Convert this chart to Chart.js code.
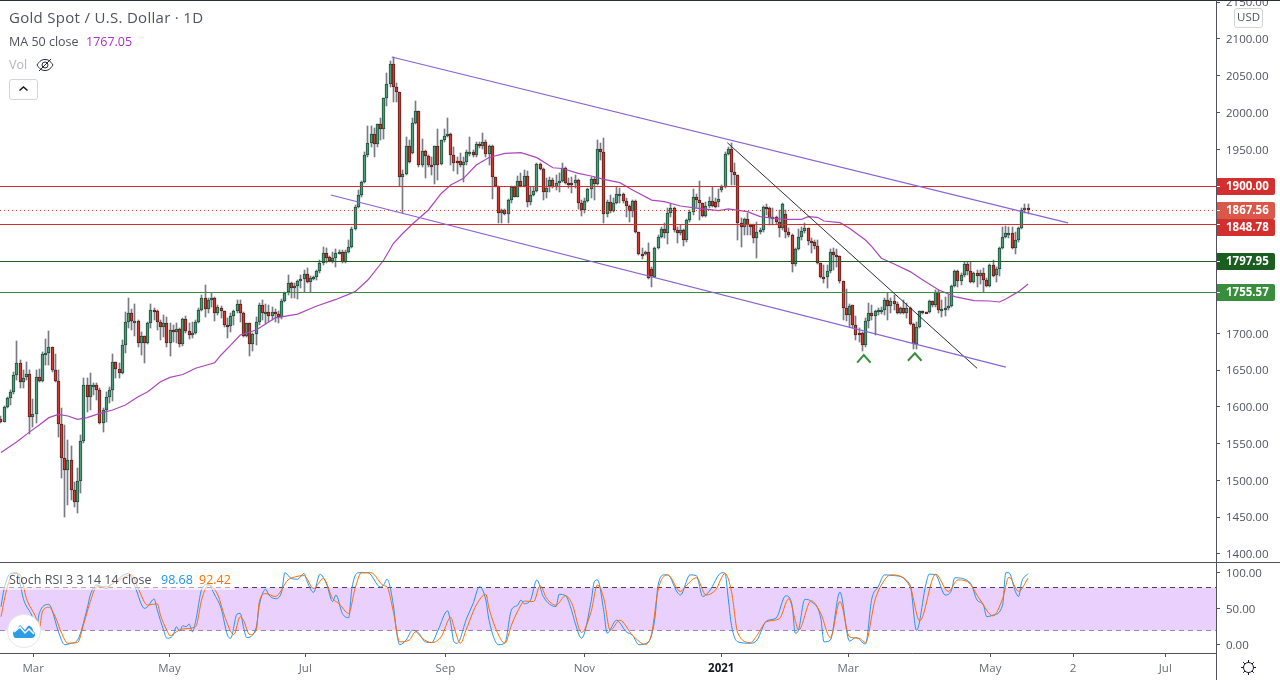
<!DOCTYPE html>
<html>
<head>
<meta charset="utf-8">
<title>Gold Spot / U.S. Dollar</title>
<script src="https://cdn.jsdelivr.net/npm/chart.js@4"></script>
<style>
html, body { margin: 0; padding: 0; background: #fff; }
body { width: 1280px; height: 680px; position: relative; overflow: hidden; font-family: "Open Sans", sans-serif; color: #50535e; }
canvas { position: absolute; left: 0; }
#priceChart { top: 1px; }
#stochChart { top: 563px; }
.rule { position: absolute; background: #50535e; }
.txt { position: absolute; white-space: nowrap; line-height: 16px; }
</style>
</head>
<body>
<canvas id="priceChart" width="1280" height="561"></canvas>
<canvas id="stochChart" width="1280" height="117"></canvas>

<div class="rule" style="left:0;top:0;width:1280px;height:1px;background:#2a2e39"></div>
<div class="rule" style="left:0;top:562px;width:1280px;height:1px"></div>
<div class="rule" style="left:1216px;top:0;width:1px;height:680px"></div>

<span class="txt" style="left:9px;top:9px;font-size:15px;letter-spacing:.3px">Gold Spot / U.S. Dollar · 1D</span>
<span class="txt" style="left:9px;top:34px;font-size:12.5px">MA 50 close</span>
<span class="txt" style="left:86px;top:34px;font-size:12.500px;color:#ab2fc4">1767.05</span>
<span class="txt" style="left:9px;top:57px;font-size:12.5px;color:#b2b5be">Vol</span>
<svg style="position:absolute;left:36px;top:57px" width="18" height="16" viewBox="0 0 18 16" fill="none" stroke="#2a2e39" stroke-width="1">
  <path d="M1 8c3-4.5 5-5.500 8-5.500s5 1 8 5.500c-3 4.500-5 5.500-8 5.500s-5-1-8-5.500z"/>
  <circle cx="9" cy="8" r="3"/><path d="M3 14L15 2"/>
</svg>
<div style="position:absolute;left:9px;top:79px;width:27px;height:19px;border:1px solid #d1d4dc;border-radius:3px"></div>
<svg style="position:absolute;left:18px;top:85px" width="11" height="7" fill="none" stroke="#131722" stroke-width="1.500"><path d="M1.500 5.500L5.500 2l4 3.500"/></svg>

<div style="position:absolute;left:1234px;top:8px;width:27px;height:18px;border:1px solid #d1d4dc;border-radius:3px;background:#fff"></div>
<span class="txt" style="left:1237px;top:9px;font-size:11.5px">USD</span>

<div style="position:absolute;left:0;top:570px;width:235px;height:20px;background:rgba(255,255,255,.55)"></div>
<span class="txt" style="left:9px;top:572px;font-size:12.5px">Stoch RSI 3 3 14 14 close</span>
<span class="txt" style="left:161px;top:572px;font-size:12.5px;color:#2196f3">98.68</span>
<span class="txt" style="left:199px;top:572px;font-size:12.5px;color:#ff6d00">92.42</span>

<div style="position:absolute;left:7px;top:614px;width:32px;height:32px;border-radius:50%;background:#fff;border:1px solid #e6e6ea"></div>
<svg style="position:absolute;left:13px;top:622px" width="22" height="16" viewBox="0 0 22 16">
  <path fill="#2e9be6" d="M0 11c0-2 2-3 3-3l4-5 5 5 3-4c2-1 5 2 5 5 2 1 2 3 2 4 0 2-2 3-3 3H3c-2 0-3-2-3-5z"/>
  <path fill="none" stroke="#fff" stroke-width="1.500" d="M1 10l6-5 5 6 4-4 5 5"/>
</svg>

<svg style="position:absolute;left:1240px;top:659px" width="17" height="17" viewBox="0 0 17 17" fill="none" stroke="#131722" stroke-width="1">
  <circle cx="8.500" cy="8.500" r="5"/>
  <path d="M8.500 1v2.500M8.500 13.500V16M1 8.500h2.500M13.500 8.500H16M3.200 3.200L5 5M12 12l1.800 1.800M3.200 13.800L5 12M12 5l1.800-1.800"/>
</svg>

<script>
// daily candles, oldest first
const opens = [
  1583,1580,1600,1611.6,1619.7,1642.8,1659,1634,1640,1644,
  1586,1590,1641,1635.6,1671.4,1672.7,1680.9,1649.6,1634.7,1576.2,
  1530,1513.7,1527.3,1486.6,1470.3,1498.8,1553,1629.2,1612.9,1629.2,
  1630,1622.5,1577.6,1595.3,1613,1622.5,1660.5,1651,1645.6,1683.6,
  1715,1727,1716.2,1717,1686.3,1695.8,1686.3,1713.5,1731.2,1729.8,
  1715,1708,1713.5,1686.3,1704,1701.3,1705.4,1685,1718.9,1702.6,
  1697.2,1699.9,1715,1731.2,1747.5,1732.5,1744.8,1747.5,1727,1735,
  1729.8,1710.8,1709.4,1723,1729.8,1739.3,1727,1695.8,1713.5,1685,
  1698.6,1715,1738.4,1727,1729.4,1724,1729.4,1726.2,1722.6,1744.3,
  1755.7,1767.9,1761.1,1763.8,1770.6,1773.3,1780.1,1769.3,1774.7,1776,
  1784.2,1795.1,1808.7,1803.2,1798.3,1802.8,1808.7,1810,1796.4,1810,
  1816.8,1841.3,1871.2,1887.5,1905.2,1941.9,1958.2,1970.4,1956.8,1984,
  1977.2,2019.3,2038.3,2065.5,2034.3,2027.5,1912,1916,1954.1,1944.6,
  1985.3,2001.6,1928.3,1947.3,1940.5,1928.3,1928.3,1954.1,1929.6,1962.2,
  1967.7,1970.4,1941.9,1933.7,1933.7,1928.3,1932.3,1945.5,1945.9,1941.9,
  1956.8,1954.1,1959.5,1943.2,1954.1,1912,1899.7,1863,1867.1,1861.7,
  1880.7,1898.4,1885.7,1906.5,1900.2,1913.3,1878,1888,1893.4,1930.1,
  1922.9,1891.6,1900,1907.9,1898.4,1903.8,1906.6,1924.2,1903.8,1903.8,
  1903.8,1907.9,1876.7,1867.1,1879.4,1895.7,1909.3,1902.5,1950,1946,
  1861.7,1878,1865.8,1876.7,1888.9,1888.9,1879.4,1872.6,1865.8,1879.4,
  1837.2,1807.3,1807.3,1810,1786.9,1777,1815.5,1830.4,1841.3,1835.9,
  1863,1869.9,1840,1835.9,1840,1826.4,1853.5,1864.4,1884.8,1880.7,
  1876.6,1859.9,1872.6,1879.4,1878,1878,1894.3,1898.4,1943.2,1950,
  1918.8,1914.7,1849.5,1844,1854.9,1846.8,1846.8,1829.1,1837.2,1840,
  1871.2,1869.9,1856.3,1857.6,1850.8,1842.7,1861.7,1838.1,1833.6,1793.7,
  1814.1,1830.4,1838.6,1842.7,1825,1823.6,1818.2,1795.1,1776,1776,
  1784.2,1810,1806,1804.6,1770.6,1733.9,1724.4,1738,1710.8,1700,
  1700,1683.7,1716.3,1727.1,1723,1729.8,1731.2,1731.2,1744.8,1736.6,
  1743.5,1739.4,1727.1,1733.9,1727.1,1733.9,1712.2,1685,1708.1,1729.8,
  1728.5,1728.5,1743.5,1738,1755.7,1731.2,1732.6,1733.9,1736.6,1763.8,
  1784.2,1770.6,1778.8,1793.7,1784.2,1769.3,1781.5,1777.4,1781.5,1772,
  1763.8,1792.4,1778.8,1786.9,1815.5,1830.4,1835.9,1836.8,1815.5,1826.4,
  1842.7,1867.1,1869.8
];
const highs = [
  1587,1601,1614,1623,1648,1689.5,1663.7,1650,1660.5,1650,
  1610,1650,1652,1675,1691.8,1703,1681.8,1671.8,1650,1598,
  1575,1555,1546.8,1498.4,1516.4,1561.7,1638.8,1638.8,1645.6,1632.9,
  1632,1625,1598,1620.6,1627.4,1671.8,1661.4,1659,1690.9,1729.4,
  1747.5,1732.5,1739.8,1718,1702,1696.7,1715.8,1739.8,1733.9,1731.6,
  1718,1724.8,1722.6,1713.5,1711.2,1713.5,1706.7,1721.2,1723.5,1713.5,
  1715.8,1718,1733.9,1752,1765.6,1747.5,1755,1749,1738.4,1737,
  1730.7,1720.3,1727,1731.6,1745,1745,1729.4,1714.4,1714.4,1700,
  1722.6,1741.6,1745,1740,1738.4,1736,1733,1730,1746,1756,
  1779,1770.2,1767.9,1772.4,1779.2,1786,1788.3,1777.9,1777.9,1786,
  1799.6,1817.7,1815.5,1805,1811,1814.1,1813.2,1813.2,1813.2,1826.8,
  1844.9,1874.4,1894.7,1907.4,1946.8,1981.7,1981.7,1978.5,1984.4,1992.1,
  2020.2,2053.3,2070.5,2075.9,2039.7,2028.4,1921.9,1966.3,1962.7,1992.1,
  2015.7,2002.6,1963.6,1949.1,1941.9,1939.1,1954.5,1977.2,1962.7,1977.2,
  1992.1,1971.8,1953.6,1940,1944.6,1940,1949.1,1966.3,1949.1,1960.4,
  1960.4,1971.8,1962.7,1955.9,1955.9,1912.9,1900.2,1868.5,1868.5,1882,
  1900.2,1900.2,1913.8,1917.4,1921.9,1921,1899.3,1899.3,1931,1931.9,
  1924.2,1910.6,1912.9,1910.6,1915.2,1917.4,1931.9,1926.5,1910.6,1912.9,
  1915.2,1909.3,1881.2,1883.4,1897,1912.9,1912.9,1962.7,1958.2,1965,
  1881.2,1888,1883.4,1899.3,1897,1890.2,1883.4,1874.4,1881.2,1881.2,
  1838.1,1815.5,1812.3,1823.2,1790.6,1817.8,1833.6,1844,1849.5,1869.9,
  1875.8,1871.2,1845,1847.2,1841.3,1854.9,1867.6,1895.7,1889.3,1907,
  1877.6,1878.9,1885.7,1899.3,1883.4,1895.7,1901.6,1946.9,1952.8,1959.1,
  1931,1915.6,1856.3,1856.3,1863,1848.6,1848.6,1851.7,1842.7,1873,
  1875.8,1872.1,1869.9,1859.4,1867.6,1877.5,1867.6,1842.7,1834.5,1815.5,
  1841.3,1844.9,1849.5,1843.6,1829,1826.8,1826.8,1796,1792.8,1792.8,
  1814.1,1815.5,1814.1,1805.5,1771.5,1759.8,1739.8,1738.9,1723.5,1706.8,
  1702.2,1720.4,1740.7,1738.5,1731.7,1733.9,1736.2,1747.5,1754.3,1747.5,
  1752,1743,1736.2,1745.3,1740.7,1735.3,1713.5,1715.8,1730.7,1730.7,
  1729.4,1745.3,1744.4,1758.8,1758.8,1745.3,1749.8,1752,1765.6,1786,
  1786,1782.4,1797.3,1797.3,1797.3,1783.8,1786,1786,1788.3,1774.7,
  1794.2,1799.6,1789.7,1816.8,1844,1845.8,1844,1844.9,1838.1,1844,
  1869.8,1875.7,1875.7
];
const lows = [
  1578,1579,1598,1602,1618,1636.5,1625,1625,1636.5,1562.7,
  1573,1577.6,1634,1634,1657,1657,1648,1633.8,1559.5,1503.8,
  1450.8,1466.6,1473.4,1464.4,1455.3,1482.5,1550.4,1593.5,1595.7,1616,
  1609.3,1576.7,1566.3,1579.9,1604.8,1608.4,1638.8,1638.8,1644.2,1673.6,
  1706.7,1704.4,1696.3,1680.9,1670.5,1660,1685,1706.7,1718,1704.4,
  1690.9,1695.4,1681.8,1669,1688.6,1686.3,1681.8,1682.7,1700,1691.8,
  1693,1699,1713.5,1730.7,1722.6,1727,1736.2,1717,1724.8,1720.3,
  1709,1693,1702,1711,1728,1715.8,1695.4,1695.4,1669,1676.4,
  1684,1711,1718,1713,1715.8,1718,1715,1714,1720,1743,
  1752,1747.5,1747.5,1746.6,1761,1756.6,1767.9,1756.6,1772.4,1772.4,
  1782.4,1792.8,1795.1,1796.9,1795.1,1790.5,1807.8,1795.1,1795.1,1808.7,
  1815.5,1840.4,1869.8,1885.7,1903.8,1939.1,1953.6,1939.1,1953.6,1962.7,
  1963.6,2008.9,2035.2,2014.8,2014.8,1900.2,1863,1915.1,1931,1943.7,
  1984.4,1926.4,1925.5,1911.5,1926.4,1915.1,1902.4,1908.3,1928.7,1960.4,
  1966.3,1928.7,1921,1916.5,1926.4,1906,1928.7,1941,1940,1939.1,
  1951.4,1950,1940,1928.7,1882,1898.4,1849.4,1849.4,1860.8,1849.4,
  1876.6,1884.8,1884.8,1898.4,1899.3,1871.2,1874.4,1886.6,1892.5,1922,
  1881.2,1883.4,1892.5,1897,1894.8,1892.5,1905.2,1902.9,1897,1891.2,
  1897,1868.5,1859.4,1863,1878.5,1883.4,1881.2,1901.6,1935.5,1849.5,
  1858.5,1864,1864.9,1875.8,1876.7,1876.7,1858.5,1851.7,1858.5,1835.9,
  1806.4,1800.5,1806.4,1773.4,1763.4,1776,1814.1,1829.1,1829.1,1821.4,
  1858.5,1838.1,1823.2,1833.6,1818.7,1824.6,1851.7,1860.8,1869.9,1854,
  1858.5,1858.5,1869.9,1871.2,1869.9,1871.2,1892.5,1897,1942.3,1901.6,
  1901.6,1826.8,1817.8,1833.6,1833.6,1833.6,1822.3,1801.9,1835,1838.1,
  1860.8,1847.2,1847.2,1848.6,1831.3,1840.4,1829,1831.3,1783.8,1791.5,
  1813.2,1826.8,1835.9,1820,1809.6,1814.1,1794.2,1774.7,1767.9,1761.1,
  1781.5,1786,1790.5,1767.9,1718.1,1717.2,1709,1706.8,1690.9,1688.6,
  1676.4,1681.8,1706.8,1718.1,1697.7,1724.9,1726.2,1724.9,1718.1,1727.1,
  1731.7,1726.2,1726.2,1726.2,1720.4,1711.3,1678.2,1678.2,1706.8,1726.2,
  1727.1,1727.1,1736.2,1736.2,1727.1,1722.6,1723.5,1731.7,1735.3,1762.5,
  1763.4,1765.6,1777,1779.2,1767.9,1767.9,1763.4,1767,1756.6,1762.5,
  1762.5,1776,1770.2,1777.9,1814.1,1829,1829,1814.1,1807.8,1824.5,
  1841.3,1863,1862.1
];
const closes = [
  1579.9,1600.3,1611.6,1619.7,1642.8,1659.1,1634.2,1639.7,1644.2,1585.8,
  1589.8,1641,1635.6,1671.4,1672.7,1680.9,1649.6,1634.7,1576.2,1530,
  1513.7,1527.3,1486.6,1470.3,1498.8,1553.1,1629.2,1612.9,1629.2,1630.2,
  1622.5,1577.6,1595.3,1613,1622.5,1660.5,1651,1645.6,1683.6,1714.9,
  1727,1716.2,1717,1686.3,1695.8,1686.3,1713.5,1731.2,1729.8,1714.9,
  1708,1713.5,1686.3,1704,1701.3,1705.4,1685,1718.9,1702.6,1697.2,
  1699.9,1714.9,1731.2,1747.5,1732.5,1744.8,1747.5,1727,1735.3,1729.8,
  1710.8,1709.4,1723,1729.8,1739.3,1727,1695.8,1713.5,1685,1698.6,
  1714.9,1738,1727,1728.5,1724,1729.4,1726.2,1722.6,1744.3,1755.2,
  1768,1761.1,1763.8,1770.6,1773.3,1780.1,1769.3,1774.7,1776,1784.2,
  1795.1,1808.7,1802.8,1798.3,1802.8,1808.7,1810,1796.4,1810,1816.8,
  1841.3,1871.2,1887.5,1905.2,1941.9,1958.2,1970.4,1956.8,1984,1977.2,
  2019.3,2038.3,2065.5,2034.3,2027.5,1912,1916,1954.1,1932.3,1985.3,
  2001.6,1928.3,1947.3,1940.5,1928.3,1927.8,1954.1,1928.3,1962.2,1967.7,
  1970.4,1941.9,1931,1931,1928.3,1932.3,1945.9,1945.9,1941.9,1956.8,
  1954.1,1959.5,1943.2,1954.1,1912,1899.7,1863,1867.1,1861.7,1880.7,
  1898.4,1885.7,1906.5,1899.7,1913.3,1878,1888,1893.4,1930.1,1922.9,
  1891.6,1897.5,1907.9,1898.4,1903.8,1906.6,1924.2,1903.8,1903.4,1902.5,
  1907.9,1876.7,1867.1,1879.4,1895.7,1909.3,1902.5,1950,1946,1861.7,
  1878,1865.8,1876.7,1888.9,1889.3,1879.4,1872.6,1865.8,1879.4,1837.2,
  1807.3,1806.9,1810,1774.7,1777.9,1815.5,1830.4,1841.3,1835.9,1863,
  1869.9,1840,1835.9,1840,1826.4,1853.5,1864.4,1884.8,1880.7,1876.6,
  1859.9,1872.6,1879.4,1872.6,1871.2,1882.1,1898.4,1943.2,1950,1918.8,
  1914.7,1849.5,1844,1854.9,1846.8,1846.3,1829.1,1837.2,1840,1871.2,
  1869.9,1856.3,1857.6,1850.8,1842.7,1875.3,1838.1,1833.6,1793.7,1814.1,
  1830.4,1838.6,1842.7,1825,1823.6,1818.2,1795.1,1776,1775.6,1784.2,
  1810,1806,1804.6,1770.6,1733.9,1724.4,1736.6,1710.8,1697.2,1697.2,
  1683.7,1716.3,1727.1,1723,1729.8,1731.2,1731.5,1744.8,1736.6,1743.5,
  1739.4,1727.1,1733.9,1727.1,1733.9,1712.2,1685,1708.1,1729.8,1728.5,
  1728,1743.5,1738,1755.7,1731.2,1732.6,1733.9,1736.6,1763.8,1784.2,
  1770.6,1778.8,1793.7,1784.2,1769.3,1781.5,1777.4,1781.5,1772,1763.8,
  1792.4,1777.4,1786.9,1815.5,1830.4,1835.9,1836.8,1815.5,1826.4,1842.7,
  1867.1,1869.8,1867.56
];

// MA 50, read at the bars listed in maBars
const maBars = [0,5,9,12,15,18,21,24,27,31,35,39,43,46,50,53,57,61,67,69,72,75,80,86,93,99,105,111,115,120,123,126,129,134,138,141,145,149,153,158,163,168,173,176,181,185,189,194,198,204,208,213,218,225,228,234,238,244,246,251,253,256,258,263,266,271,273,276,280,285,289,294,299,305,310,313,315,319,322];
const maValues = [1538,1552.7,1566,1575.4,1585.3,1589.8,1587.6,1583,1585.3,1591.2,1595.7,1602.5,1613.8,1620.6,1634,1640,1644,1652.4,1660,1670.5,1684,1697.6,1704.5,1721,1726,1737,1746,1756.6,1772.4,1799.6,1822,1836,1848.5,1867.6,1890,1901.5,1910.6,1928.7,1939,1944.6,1945.5,1938.7,1925,1924,1917.4,1913.8,1909.3,1904.7,1894.8,1881,1879,1873,1870,1866.7,1869,1865.3,1858.5,1855.4,1854.9,1854.9,1858.5,1857.6,1852.6,1850.4,1842.7,1826.8,1817.7,1802,1794.2,1783.8,1772.4,1758.8,1749.8,1744.4,1743.9,1742.5,1746.5,1756.6,1767.05];

// Stoch RSI, read at the turning points of each line
const kBars = [0,1,3,5,6,7,10,11,12,15,16,18,20,22,24,27,28,30,31,33,35,40,42,45,46,48,49,51,52,54,55,56,57,58,59,60,61,63,65,67,69,71,72,74,75,76,77,80,81,83,84,86,88,89,91,93,95,96,98,100,102,104,105,107,109,110,112,115,119,120,121,123,124,125,127,129,131,133,135,137,140,141,142,143,146,148,150,152,153,156,158,160,162,163,164,166,168,170,174,175,177,179,180,182,185,186,187,189,190,193,196,198,200,203,205,206,208,209,212,213,216,218,220,222,226,227,228,229,231,235,237,240,243,246,248,249,250,252,254,257,258,260,263,266,268,271,273,275,277,280,285,287,290,291,293,296,298,299,304,306,308,309,311,314,315,316,318,319,320,322];
const kValues = [52.8,78.2,99,100,85,64,37,20,43.5,56,48,18,0,2,6.5,50,69,83,81.5,78,85,99,80.5,50.5,53,63.4,48,20,9,13.4,25,19,26.4,25,28.7,18,32,78,84,69,50.5,13.4,9,42.6,43.5,25,10,23.6,55,77,69,64,73.6,100,92,91,99,87.5,72.7,98,85,60,69,43.5,37.5,78,100,100,80,83,91,55,18,0,6.5,20,16,4,3,20,47,30,4,2,37,57,80.5,62,34,0,3,48,55,62,57,62,90,67,53,70,68,46,30,9,60,87.5,90,46,16,34,18,13,0,4,37,83,97,97,73,69,97,96,67,74,100,99,64,27,4,2,6.5,33,37,68,55,16,20,63,60,37,4,6.5,73,5,10,1,64,80.5,97,96,83,20,85,98,97,69,76,93,85,62,55,39,41,55,100,100,74,67,87.5,98.68];
const dBars = [0,2,4,6,8,11,12,13,15,17,19,21,24,26,28,30,33,36,41,43,46,49,50,52,53,55,57,61,63,65,68,70,73,75,76,78,80,81,83,86,90,92,95,98,101,104,106,109,111,113,116,120,121,123,125,128,130,132,135,138,141,142,144,146,149,152,153,156,158,160,163,164,167,169,171,174,177,179,182,185,187,189,191,194,198,202,204,206,209,213,215,218,221,224,227,229,231,235,237,240,244,247,249,250,254,257,260,263,266,269,271,274,276,279,285,288,293,297,300,303,307,311,314,316,319,322];
const dValues = [39,80.5,99,97,64,37,23,46,52,39,16,2,3,30,60,80.5,80.5,87.5,97,78,55,57,41,20,12.5,18,22,25,64,83,69,41,14,39,34,14,20,60,71,67,90,94,96,78,92,64,57,43.5,78,100,100,82,80.5,46,4,6.5,18,9,3,11,38,25,2,23,55,70,50.5,13.4,2,27,55,60.6,60,82,65,55,68,57,17,46,83,64,20,34,13,0.5,16,76,97,74,83,93,69,76,99,74,16,3,13,32,36,64,34,20,61,43.5,10,60,11,9,3,62,83,97,80.5,33,98,74,90,87.5,62,40,64,94,74,92.42];

// drawn levels and trend lines
const levelPrices = [1900, 1867.56, 1848.78, 1797.95, 1755.57];
const levelLabels = ['1900.00', '1867.56', '1848.78', '1797.95', '1755.57'];
const levelColors = ['#d32f2f', '#e53935', '#d32f2f', '#1b5e20', '#388e3c'];
const levelBoxColors = ['#d32f2f', '#d9584a', '#d32f2f', '#1b5e20', '#388e3c'];
const upperChannelBars = [122.5, 334.5];
const upperChannelPrices = [2075.5, 1850];
const lowerChannelBars = [103.4, 315];
const lowerChannelPrices = [1888, 1654];
const breakLineBars = [227.7, 306];
const breakLinePrices = [1959, 1652.4];
const firstLowBars = [268.4, 270.5, 272.6];
const firstLowPrices = [1660, 1670.5, 1660];
const secondLowBars = [284.3, 286.5, 288.6];
const secondLowPrices = [1662.7, 1672.8, 1662.7];

// axes
const priceTicks = [1400,1450,1500,1550,1600,1650,1700,1750,1800,1850,1900,1950,2000,2050,2100,2150];
const stochTicks = [0, 50, 100];
const bandEdges = [80, 20];
const timeTickBars = [10.1, 52.8, 95.4, 139.3, 182.9, 225.8, 265.6, 310.1, 336.1, 365];
const timeTickLabels = ['Mar', 'May', 'Jul', 'Sep', 'Nov', '2021', 'Mar', 'May', '2', 'Jul'];

const BAR_MIN = -0.31;
const BAR_MAX = 380.9;
const FONT = '"Open Sans", sans-serif';
const AXIS_COLOR = '#50535e';

const upFill = '#4a9d78', upEdge = '#1f4f3a';
const downFill = '#d9362b', downEdge = '#57201c';

function points(xs, ys) {
    return xs.map((x, i) => ({ x: x, y: ys[i] }));
}

function lineSet(xs, ys, color, extra) {
    return Object.assign({
        type: 'line',
        data: points(xs, ys),
        borderColor: color,
        borderWidth: 1,
        pointRadius: 0,
        fill: false,
        order: 5
    }, extra || {});
}

// keep candles and flat rules on whole pixels like the original
const snapMarks = {
    id: 'snapMarks',
    beforeDatasetsDraw(chart) {
        chart.getSortedVisibleDatasetMetas().forEach(meta => {
            if (meta.type === 'bar') {
                meta.data.forEach(el => {
                    el.x = Math.floor(el.x) + 0.5;
                    el.y = Math.round(el.y);
                    el.base = Math.round(el.base);
                    if (el.base - el.y < 2 && meta.index === 0) el.base = el.y + 2;
                });
            } else if (chart.data.datasets[meta.index].flatRule) {
                meta.data.forEach(el => { el.y = Math.round(el.y) + 0.5; });
            }
        });
    }
};

// coloured price boxes on the axis
const levelBoxes = {
    id: 'levelBoxes',
    afterDraw(chart) {
        const ctx = chart.ctx;
        const yScale = chart.scales.y;
        const left = chart.chartArea.right;
        let lastBottom = -100;
        levelPrices.forEach((price, i) => {
            const lineY = Math.round(yScale.getPixelForValue(price));
            const top = Math.max(lineY - 8, lastBottom);
            lastBottom = top + 17;
            ctx.save();
            ctx.fillStyle = levelBoxColors[i];
            ctx.beginPath();
            ctx.roundRect(left, top, 59, 17, [0, 2, 2, 0]);
            ctx.fill();
            ctx.fillStyle = '#fff';
            ctx.fillRect(left, lineY, 4, 1);
            ctx.font = 'bold 11.5px ' + FONT;
            ctx.textAlign = 'left';
            ctx.textBaseline = 'middle';
            ctx.fillText(levelLabels[i], left + 10, top + 9);
            ctx.restore();
        });
    }
};

function rightAxis(ticks, min, max) {
    return {
        position: 'right',
        min: min,
        max: max,
        afterBuildTicks: scale => { scale.ticks = ticks.map(v => ({ value: v })); },
        afterFit: scale => {
            scale.width = 64;
            scale.paddingTop = 0;
            scale.paddingBottom = 0;
        },
        grid: { drawOnChartArea: false, tickLength: 4, tickColor: AXIS_COLOR, drawTicks: true },
        border: { display: false },
        ticks: {
            color: AXIS_COLOR,
            padding: 6,
            labelOffset: 1,
            font: { family: FONT, size: 11.5 },
            callback: v => v.toFixed(2)
        }
    };
}

const candleData = opens.map((o, i) => ({ x: i, y: [o, closes[i]] }));
const wickData = opens.map((o, i) => ({ x: i, y: [lows[i], highs[i]] }));
const rising = closes.map((c, i) => c >= opens[i]);

new Chart(document.getElementById('priceChart'), {
    type: 'bar',
    data: {
        datasets: [
            {
                data: candleData,
                barThickness: 3,
                grouped: false,
                borderWidth: 1,
                borderSkipped: false,
                backgroundColor: rising.map(r => r ? upFill : downFill),
                borderColor: rising.map(r => r ? upEdge : downEdge),
                order: 19
            },
            {
                data: wickData,
                barThickness: 1,
                grouped: false,
                backgroundColor: '#787b86',
                order: 20
            },
            lineSet(maBars, maValues, '#ab47bc', { order: 6, borderWidth: 1.2 }),
            lineSet(upperChannelBars, upperChannelPrices, '#8a63d2', { borderWidth: 1.2 }),
            lineSet(lowerChannelBars, lowerChannelPrices, '#8a63d2', { borderWidth: 1.2 }),
            lineSet(breakLineBars, breakLinePrices, '#2a2e39'),
            lineSet(firstLowBars, firstLowPrices, '#388e3c', { borderWidth: 2 }),
            lineSet(secondLowBars, secondLowPrices, '#388e3c', { borderWidth: 2 }),
            ...levelPrices.map((price, i) => lineSet(
                [BAR_MIN, BAR_MAX], [price, price], levelColors[i],
                i === 1 ? { borderDash: [1, 3], flatRule: true } : { flatRule: true }
            ))
        ]
    },
    options: {
        responsive: false,
        animation: false,
        events: [],
        layout: { padding: 0 },
        plugins: { legend: { display: false }, tooltip: { enabled: false } },
        scales: {
            x: { type: 'linear', display: false, min: BAR_MIN, max: BAR_MAX, offset: false },
            y: rightAxis(priceTicks, 1389.1, 2151.65)
        }
    },
    plugins: [snapMarks, levelBoxes]
});

new Chart(document.getElementById('stochChart'), {
    type: 'line',
    data: {
        datasets: [
            lineSet(kBars, kValues, '#2196f3', { order: 1, cubicInterpolationMode: 'monotone' }),
            lineSet(dBars, dValues, '#ff6d00', { order: 0, cubicInterpolationMode: 'monotone' }),
            lineSet([BAR_MIN, BAR_MAX], [bandEdges[0], bandEdges[0]], '#4e3f5f', {
                borderDash: [5, 4], fill: '+1', backgroundColor: '#e9d0fd', order: 3, flatRule: true
            }),
            lineSet([BAR_MIN, BAR_MAX], [bandEdges[1], bandEdges[1]], '#4e3f5f', {
                borderDash: [5, 4], order: 3, flatRule: true
            })
        ]
    },
    options: {
        responsive: false,
        animation: false,
        events: [],
        layout: { padding: 0 },
        plugins: { legend: { display: false }, tooltip: { enabled: false } },
        scales: {
            x: {
                type: 'linear',
                min: BAR_MIN,
                max: BAR_MAX,
                offset: false,
                afterBuildTicks: scale => { scale.ticks = timeTickBars.map(v => ({ value: v })); },
                afterFit: scale => {
                    scale.height = 27;
                    scale.paddingLeft = 0;
                    scale.paddingRight = 0;
                },
                grid: { drawOnChartArea: false, tickLength: 4, tickColor: AXIS_COLOR },
                border: { display: true, color: AXIS_COLOR },
                ticks: {
                    autoSkip: false,
                    maxRotation: 0,
                    padding: 5,
                    color: ctx => timeTickLabels[ctx.index] === '2021' ? '#131722' : '#6a6d78',
                    font: ctx => ({
                        family: FONT,
                        size: 11.5,
                        weight: timeTickLabels[ctx.index] === '2021' ? 'bold' : 'normal'
                    }),
                    callback: (v, i) => timeTickLabels[i]
                }
            },
            y: rightAxis(stochTicks, -11.5, 113.5)
        }
    },
    plugins: [snapMarks]
});
</script>
</body>
</html>
